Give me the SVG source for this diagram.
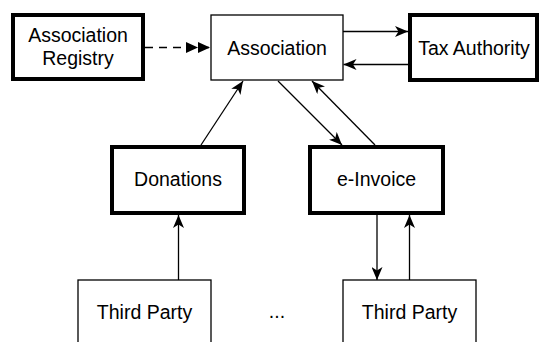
<svg xmlns="http://www.w3.org/2000/svg" width="540" height="342" viewBox="0 0 540 342">
<style>
.thin{fill:#fff;stroke:#000;stroke-width:1.3}
.thick{fill:#fff;stroke:#000;stroke-width:4}
.lbl{font-family:"Liberation Sans",Arial,sans-serif;font-size:19.5px;fill:#000;text-anchor:middle}
.edge{fill:none;stroke:#000;stroke-width:1.3}
</style>
<defs>
<marker id="arr" viewBox="0 0 13 11" refX="13" refY="5.5" markerWidth="13" markerHeight="11" orient="auto" markerUnits="userSpaceOnUse">
<path d="M0,0 L13,5.5 L0,11 L3.5,5.5 Z" fill="#000"/>
</marker>
<marker id="dbl" viewBox="0 0 24 11" refX="24" refY="5.5" markerWidth="24" markerHeight="11" orient="auto" markerUnits="userSpaceOnUse">
<path d="M0,0 L12,5.5 L0,11 Z M12,0 L24,5.5 L12,11 Z" fill="#000"/>
</marker>
</defs>
<g id="connectors">
<line class="edge" x1="145" y1="47.5" x2="210" y2="47.5" stroke-dasharray="8 6" marker-end="url(#dbl)"/>
<line class="edge" x1="343" y1="31.5" x2="408" y2="31.5" marker-end="url(#arr)"/>
<line class="edge" x1="408" y1="64.5" x2="343.5" y2="64.5" marker-end="url(#arr)"/>
<line class="edge" x1="201" y1="145" x2="243" y2="81" marker-end="url(#arr)"/>
<line class="edge" x1="278" y1="81" x2="342" y2="145" marker-end="url(#arr)"/>
<line class="edge" x1="375" y1="145" x2="312" y2="81" marker-end="url(#arr)"/>
<line class="edge" x1="178.5" y1="280" x2="178.5" y2="215" marker-end="url(#arr)"/>
<line class="edge" x1="377" y1="215" x2="377" y2="280" marker-end="url(#arr)"/>
<line class="edge" x1="409.5" y1="280" x2="409.5" y2="215" marker-end="url(#arr)"/>
</g>
<g id="association-registry">
<rect class="thick" x="13" y="15" width="130" height="64"/>
<text class="lbl" x="78" y="42">Association</text>
<text class="lbl" x="78" y="65">Registry</text>
</g>
<g id="association">
<rect class="thin" x="211" y="15" width="132" height="65"/>
<text class="lbl" x="277" y="55">Association</text>
</g>
<g id="tax-authority">
<rect class="thick" x="410" y="15" width="127" height="65"/>
<text class="lbl" x="474" y="55">Tax Authority</text>
</g>
<g id="donations">
<rect class="thick" x="112" y="147" width="132" height="66"/>
<text class="lbl" x="178" y="186">Donations</text>
</g>
<g id="e-invoice">
<rect class="thick" x="310" y="147" width="133" height="66"/>
<text class="lbl" x="376.5" y="186">e-Invoice</text>
</g>
<g id="third-party-1">
<rect class="thin" x="78" y="280" width="133" height="66"/>
<text class="lbl" x="144.5" y="319">Third Party</text>
</g>
<g id="ellipsis">
<text class="lbl" x="277" y="318">...</text>
</g>
<g id="third-party-2">
<rect class="thin" x="343" y="280" width="133" height="66"/>
<text class="lbl" x="409.5" y="319">Third Party</text>
</g>
</svg>
